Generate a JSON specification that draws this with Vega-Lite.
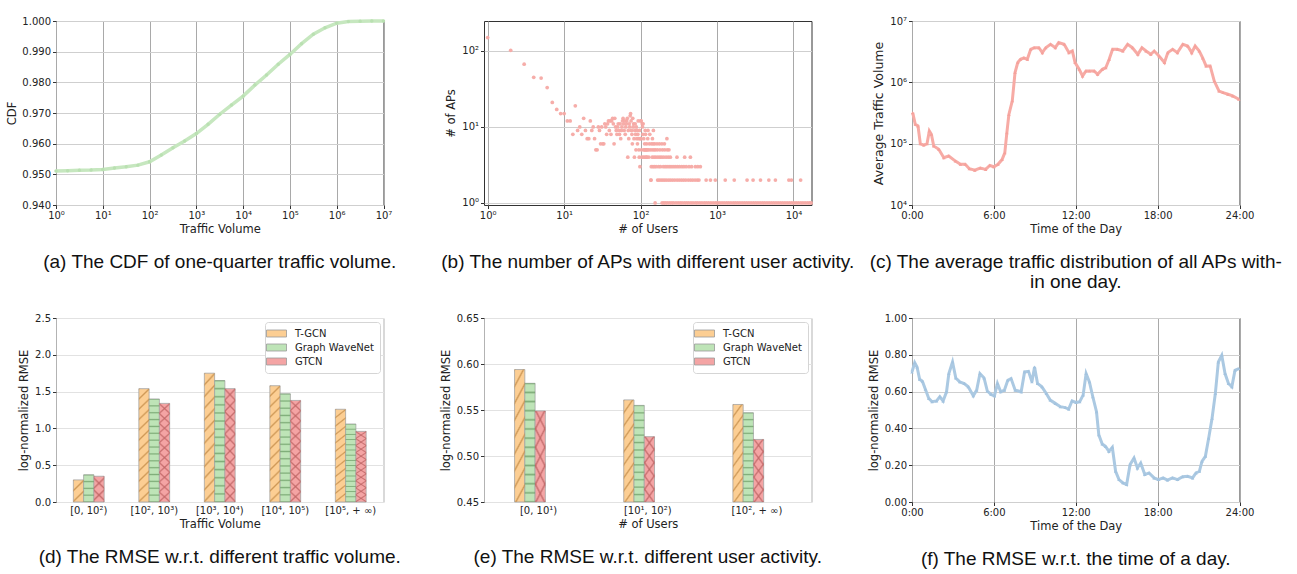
{
  "$schema": "https://vega.github.io/schema/vega-lite/v6.json",
  "padding": {"left": 6, "top": 13, "right": 5, "bottom": 5},
  "background": "white",
  "config": {
    "font": "DejaVu Sans",
    "view": {"stroke": "#333333", "strokeWidth": 1},
    "axis": {
      "labelFont": "DejaVu Sans", "labelFontSize": 10, "labelColor": "#222222",
      "titleFont": "DejaVu Sans", "titleFontSize": 11.5, "titleFontWeight": "normal", "titleColor": "#222222",
      "tickColor": "#333333", "tickSize": 3.5, "domain": false, "labelFlush": false, "labelOverlap": false,
      "labelPadding": 2, "titlePadding": 3, "gridWidth": 1
    },
    "axisX": {"gridColor": "#a9a9a9"},
    "axisY": {"gridColor": "#cfcfcf"},
    "title": {"font": "Liberation Sans", "fontSize": 19, "fontWeight": "normal", "color": "#111111", "orient": "bottom", "frame": "group", "anchor": "middle", "offset": 18}
  },
  "resolve": {"scale": {"color": "independent"}, "legend": {"color": "independent"}},
  "columns": 3,
  "spacing": {"row": 113, "column": 100},
  "bounds": "flush",
  "concat": [
    {
      "width": 327.5, "height": 184,
      "title": {"text": "(a) The CDF of one-quarter traffic volume."},
      "data": {"values": [
        {"x": 1, "c": 0.9511}, {"x": 1.778, "c": 0.9512}, {"x": 3.162, "c": 0.9513}, {"x": 5.623, "c": 0.9514},
        {"x": 10, "c": 0.9516}, {"x": 17.78, "c": 0.9521}, {"x": 31.62, "c": 0.9525}, {"x": 56.23, "c": 0.953},
        {"x": 100, "c": 0.9541}, {"x": 177.8, "c": 0.9563}, {"x": 316.2, "c": 0.9587}, {"x": 562.3, "c": 0.9609},
        {"x": 1000, "c": 0.9633}, {"x": 1778, "c": 0.9663}, {"x": 3162, "c": 0.9696}, {"x": 5623, "c": 0.9726},
        {"x": 10000, "c": 0.9755}, {"x": 17783, "c": 0.9791}, {"x": 31623, "c": 0.9824}, {"x": 56234, "c": 0.9859},
        {"x": 100000, "c": 0.9891}, {"x": 177828, "c": 0.9926}, {"x": 316228, "c": 0.9957}, {"x": 562341, "c": 0.9978},
        {"x": 1000000, "c": 0.9993}, {"x": 1778279, "c": 0.9998}, {"x": 3162278, "c": 0.9999}, {"x": 5623413, "c": 1.0},
        {"x": 10000000, "c": 1.0}
      ]},
      "mark": {"type": "line", "color": "#c6e7bf", "strokeWidth": 3.5, "point": {"filled": true, "size": 12, "color": "#b9e0b1"}},
      "encoding": {
        "x": {"field": "x", "type": "quantitative", "scale": {"type": "log", "domain": [1, 10000000], "nice": false},
          "axis": {"values": [1, 10, 100, 1000, 10000, 100000, 1000000, 10000000], "title": "Traffic Volume",
            "labelExpr": "'10' + ['⁰','¹','²','³','⁴','⁵','⁶','⁷'][round(log(datum.value)/LN10)]"}},
        "y": {"field": "c", "type": "quantitative", "scale": {"domain": [0.94, 1.0], "nice": false, "zero": false},
          "axis": {"values": [0.94, 0.95, 0.96, 0.97, 0.98, 0.99, 1.0], "format": ".3f", "title": "CDF", "titlePadding": 4}}
      }
    },
    {
      "width": 327.5, "height": 184,
      "title": {"text": "(b) The number of APs with different user activity."},
      "data": {"values": [
        {"u": 1, "n": 150}, {"u": 2, "n": 102}, {"u": 3, "n": 67}, {"u": 4, "n": 45}, {"u": 5, "n": 44}, {"u": 6, "n": 33},
        {"u": 7, "n": 21}, {"u": 8, "n": 17}, {"u": 9, "n": 15}, {"u": 10, "n": 15}, {"u": 11, "n": 12}, {"u": 12, "n": 12},
        {"u": 13, "n": 8}, {"u": 14, "n": 19}, {"u": 15, "n": 9}, {"u": 16, "n": 10}, {"u": 17, "n": 8}, {"u": 18, "n": 13},
        {"u": 19, "n": 9}, {"u": 20, "n": 7}, {"u": 21, "n": 7}, {"u": 22, "n": 12}, {"u": 23, "n": 9}, {"u": 24, "n": 10},
        {"u": 25, "n": 7}, {"u": 26, "n": 5}, {"u": 27, "n": 5}, {"u": 28, "n": 10}, {"u": 29, "n": 9}, {"u": 30, "n": 6},
        {"u": 31, "n": 10}, {"u": 32, "n": 6}, {"u": 33, "n": 6}, {"u": 34, "n": 11}, {"u": 35, "n": 10}, {"u": 36, "n": 8},
        {"u": 37, "n": 11}, {"u": 38, "n": 12}, {"u": 39, "n": 9}, {"u": 40, "n": 12}, {"u": 41, "n": 8}, {"u": 42, "n": 12},
        {"u": 43, "n": 13}, {"u": 44, "n": 11}, {"u": 45, "n": 6}, {"u": 46, "n": 13}, {"u": 47, "n": 10}, {"u": 48, "n": 9},
        {"u": 49, "n": 8}, {"u": 50, "n": 10}, {"u": 51, "n": 11}, {"u": 52, "n": 9}, {"u": 53, "n": 8}, {"u": 54, "n": 11},
        {"u": 55, "n": 7}, {"u": 56, "n": 9}, {"u": 57, "n": 10}, {"u": 58, "n": 12}, {"u": 59, "n": 13}, {"u": 60, "n": 11},
        {"u": 61, "n": 9}, {"u": 62, "n": 12}, {"u": 63, "n": 8}, {"u": 64, "n": 10}, {"u": 65, "n": 11}, {"u": 66, "n": 12},
        {"u": 67, "n": 13}, {"u": 68, "n": 4}, {"u": 69, "n": 9}, {"u": 70, "n": 7}, {"u": 71, "n": 11}, {"u": 72, "n": 10},
        {"u": 73, "n": 14}, {"u": 74, "n": 15}, {"u": 75, "n": 12}, {"u": 76, "n": 9}, {"u": 77, "n": 8}, {"u": 78, "n": 6},
        {"u": 79, "n": 13}, {"u": 80, "n": 10}, {"u": 81, "n": 11}, {"u": 82, "n": 7}, {"u": 83, "n": 4}, {"u": 84, "n": 9},
        {"u": 85, "n": 11}, {"u": 86, "n": 8}, {"u": 87, "n": 5}, {"u": 88, "n": 10}, {"u": 89, "n": 7}, {"u": 90, "n": 9},
        {"u": 91, "n": 6}, {"u": 92, "n": 8}, {"u": 93, "n": 12}, {"u": 94, "n": 7}, {"u": 95, "n": 5}, {"u": 96, "n": 4},
        {"u": 97, "n": 9}, {"u": 98, "n": 3}, {"u": 99, "n": 7}, {"u": 100, "n": 12},
        {"u": 101, "n": 7}, {"u": 102, "n": 12}, {"u": 103, "n": 5}, {"u": 104, "n": 4}, {"u": 105, "n": 11}, {"u": 106, "n": 10},
        {"u": 107, "n": 8}, {"u": 108, "n": 11}, {"u": 109, "n": 4}, {"u": 110, "n": 7}, {"u": 111, "n": 5}, {"u": 112, "n": 5},
        {"u": 113, "n": 6}, {"u": 114, "n": 4}, {"u": 115, "n": 9}, {"u": 116, "n": 8}, {"u": 117, "n": 5}, {"u": 118, "n": 5},
        {"u": 119, "n": 4}, {"u": 120, "n": 6}, {"u": 121, "n": 4}, {"u": 122, "n": 5}, {"u": 124, "n": 7}, {"u": 125, "n": 9},
        {"u": 126, "n": 5}, {"u": 128, "n": 4}, {"u": 130, "n": 6}, {"u": 132, "n": 8}, {"u": 133, "n": 5}, {"u": 137, "n": 2},
        {"u": 138, "n": 3}, {"u": 145, "n": 3}, {"u": 152, "n": 3}, {"u": 160, "n": 3}, {"u": 172, "n": 3}, {"u": 182, "n": 3},
        {"u": 198, "n": 3}, {"u": 210, "n": 3}, {"u": 222, "n": 3}, {"u": 236, "n": 3}, {"u": 250, "n": 3}, {"u": 266, "n": 3},
        {"u": 283, "n": 3}, {"u": 302, "n": 3}, {"u": 322, "n": 3}, {"u": 345, "n": 3}, {"u": 368, "n": 3}, {"u": 395, "n": 3},
        {"u": 430, "n": 3}, {"u": 465, "n": 3}, {"u": 520, "n": 3}, {"u": 560, "n": 3}, {"u": 605, "n": 3},
        {"u": 142, "n": 4}, {"u": 150, "n": 4}, {"u": 158, "n": 4}, {"u": 168, "n": 4}, {"u": 178, "n": 4}, {"u": 188, "n": 4},
        {"u": 200, "n": 4}, {"u": 215, "n": 4}, {"u": 230, "n": 4}, {"u": 245, "n": 4}, {"u": 299, "n": 4}, {"u": 377, "n": 4},
        {"u": 448, "n": 4},
        {"u": 141, "n": 5}, {"u": 149, "n": 5}, {"u": 156, "n": 5}, {"u": 166, "n": 5}, {"u": 179, "n": 5}, {"u": 193, "n": 5},
        {"u": 207, "n": 5}, {"u": 223, "n": 5}, {"u": 235, "n": 5},
        {"u": 139, "n": 6}, {"u": 146, "n": 6}, {"u": 153, "n": 6}, {"u": 164, "n": 6}, {"u": 176, "n": 6}, {"u": 190, "n": 6},
        {"u": 205, "n": 6}, {"u": 143, "n": 7}, {"u": 221, "n": 7}, {"u": 147, "n": 9},
        {"u": 136, "n": 2}, {"u": 167, "n": 2}, {"u": 175, "n": 2}, {"u": 185, "n": 2}, {"u": 195, "n": 2}, {"u": 206, "n": 2},
        {"u": 218, "n": 2}, {"u": 232, "n": 2}, {"u": 246, "n": 2}, {"u": 262, "n": 2}, {"u": 280, "n": 2}, {"u": 300, "n": 2},
        {"u": 320, "n": 2}, {"u": 342, "n": 2}, {"u": 365, "n": 2}, {"u": 390, "n": 2}, {"u": 420, "n": 2}, {"u": 450, "n": 2},
        {"u": 480, "n": 2}, {"u": 515, "n": 2}, {"u": 550, "n": 2}, {"u": 580, "n": 2}, {"u": 720, "n": 2}, {"u": 820, "n": 2},
        {"u": 950, "n": 2}, {"u": 1280, "n": 2}, {"u": 1680, "n": 2}, {"u": 2470, "n": 2}, {"u": 2960, "n": 2}, {"u": 3700, "n": 2},
        {"u": 4760, "n": 2}, {"u": 5800, "n": 2}, {"u": 8700, "n": 2}, {"u": 9400, "n": 2}, {"u": 12400, "n": 2},
        {"u": 155, "n": 1}, {"u": 191, "n": 1}, {"u": 201, "n": 1}, {"u": 212, "n": 1}, {"u": 225, "n": 1}, {"u": 240, "n": 1},
        {"u": 255, "n": 1}, {"u": 270, "n": 1}, {"u": 290, "n": 1}, {"u": 310, "n": 1}, {"u": 330, "n": 1}, {"u": 350, "n": 1},
        {"u": 375, "n": 1}, {"u": 400, "n": 1}, {"u": 425, "n": 1}, {"u": 455, "n": 1}, {"u": 485, "n": 1}, {"u": 521, "n": 1},
        {"u": 555, "n": 1}, {"u": 595, "n": 1}, {"u": 635, "n": 1}, {"u": 680, "n": 1}, {"u": 725, "n": 1}, {"u": 775, "n": 1},
        {"u": 830, "n": 1}, {"u": 890, "n": 1}, {"u": 955, "n": 1}, {"u": 1015, "n": 1}, {"u": 1085, "n": 1}, {"u": 1160, "n": 1},
        {"u": 1240, "n": 1}, {"u": 1330, "n": 1}, {"u": 1420, "n": 1}, {"u": 1520, "n": 1}, {"u": 1630, "n": 1}, {"u": 1740, "n": 1},
        {"u": 1860, "n": 1}, {"u": 1990, "n": 1}, {"u": 2130, "n": 1}, {"u": 2280, "n": 1}, {"u": 2440, "n": 1}, {"u": 2610, "n": 1},
        {"u": 2790, "n": 1}, {"u": 2990, "n": 1}, {"u": 3200, "n": 1}, {"u": 3420, "n": 1}, {"u": 3660, "n": 1}, {"u": 3920, "n": 1},
        {"u": 4190, "n": 1}, {"u": 4490, "n": 1}, {"u": 4800, "n": 1}, {"u": 5140, "n": 1}, {"u": 5500, "n": 1}, {"u": 5890, "n": 1},
        {"u": 6300, "n": 1}, {"u": 6740, "n": 1}, {"u": 7210, "n": 1}, {"u": 7720, "n": 1}, {"u": 8260, "n": 1}, {"u": 8840, "n": 1},
        {"u": 9460, "n": 1}, {"u": 10120, "n": 1}, {"u": 10830, "n": 1}, {"u": 11590, "n": 1}, {"u": 12450, "n": 1}, {"u": 13270, "n": 1},
        {"u": 14200, "n": 1}, {"u": 15200, "n": 1}, {"u": 16200, "n": 1}, {"u": 17000, "n": 1}
      ]},
      "mark": {"type": "point", "shape": "circle", "filled": true, "size": 14, "color": "#f5a9a4", "opacity": 0.95},
      "encoding": {
        "x": {"field": "u", "type": "quantitative", "scale": {"type": "log", "domain": [0.895, 17200], "nice": false},
          "axis": {"values": [1, 10, 100, 1000, 10000], "title": "# of Users",
            "labelExpr": "'10' + ['⁰','¹','²','³','⁴'][round(log(datum.value)/LN10)]"}},
        "y": {"field": "n", "type": "quantitative", "scale": {"type": "log", "domain": [0.94, 248], "nice": false},
          "axis": {"values": [1, 10, 100], "title": "# of APs", "titlePadding": 5,
            "labelExpr": "'10' + ['⁰','¹','²'][round(log(datum.value)/LN10)]"}}
      }
    },
    {
      "width": 327.5, "height": 184,
      "title": {"text": ["(c) The average traffic distribution of all APs with-", "in one day."], "lineHeight": 20},
      "data": {"values": [
        {"t": 0.05, "v": 320000}, {"t": 0.24, "v": 207000}, {"t": 0.44, "v": 194000}, {"t": 0.61, "v": 100000},
        {"t": 0.86, "v": 95000}, {"t": 1.1, "v": 100000}, {"t": 1.27, "v": 161000}, {"t": 1.42, "v": 142000},
        {"t": 1.59, "v": 92000}, {"t": 1.96, "v": 81000}, {"t": 2.33, "v": 59000}, {"t": 2.69, "v": 63000},
        {"t": 3.18, "v": 52000}, {"t": 3.55, "v": 46000}, {"t": 3.9, "v": 46000}, {"t": 4.2, "v": 39000},
        {"t": 4.6, "v": 37000}, {"t": 5.0, "v": 40000}, {"t": 5.4, "v": 38000}, {"t": 5.7, "v": 44000},
        {"t": 6.0, "v": 42000}, {"t": 6.3, "v": 46000}, {"t": 6.6, "v": 55000}, {"t": 6.8, "v": 71000},
        {"t": 6.95, "v": 150000}, {"t": 7.1, "v": 300000}, {"t": 7.35, "v": 500000}, {"t": 7.55, "v": 1440000},
        {"t": 7.75, "v": 2100000}, {"t": 7.95, "v": 2370000}, {"t": 8.2, "v": 2500000}, {"t": 8.45, "v": 2370000},
        {"t": 8.7, "v": 3450000}, {"t": 8.95, "v": 3670000}, {"t": 9.3, "v": 3670000}, {"t": 9.55, "v": 3050000},
        {"t": 9.8, "v": 3670000}, {"t": 10.15, "v": 4170000}, {"t": 10.5, "v": 3670000}, {"t": 10.75, "v": 4440000},
        {"t": 11.15, "v": 4170000}, {"t": 11.5, "v": 3050000}, {"t": 11.75, "v": 3240000}, {"t": 11.95, "v": 2100000},
        {"t": 12.25, "v": 1630000}, {"t": 12.5, "v": 1270000}, {"t": 12.75, "v": 1530000}, {"t": 13.0, "v": 1530000},
        {"t": 13.35, "v": 1530000}, {"t": 13.6, "v": 1350000}, {"t": 13.95, "v": 1630000}, {"t": 14.2, "v": 1730000},
        {"t": 14.45, "v": 2370000}, {"t": 14.7, "v": 3450000}, {"t": 15.05, "v": 3450000}, {"t": 15.45, "v": 3240000},
        {"t": 15.8, "v": 4170000}, {"t": 16.15, "v": 3670000}, {"t": 16.55, "v": 2860000}, {"t": 16.85, "v": 3670000},
        {"t": 17.15, "v": 3240000}, {"t": 17.5, "v": 2860000}, {"t": 17.75, "v": 3240000}, {"t": 18.1, "v": 2690000},
        {"t": 18.5, "v": 2100000}, {"t": 18.75, "v": 3050000}, {"t": 19.1, "v": 3450000}, {"t": 19.45, "v": 3050000},
        {"t": 19.85, "v": 4170000}, {"t": 20.2, "v": 3910000}, {"t": 20.5, "v": 3050000}, {"t": 20.75, "v": 3910000},
        {"t": 21.05, "v": 3240000}, {"t": 21.3, "v": 2500000}, {"t": 21.55, "v": 1850000}, {"t": 21.85, "v": 1850000},
        {"t": 22.15, "v": 1050000}, {"t": 22.5, "v": 720000}, {"t": 22.8, "v": 680000}, {"t": 23.15, "v": 640000},
        {"t": 23.5, "v": 600000}, {"t": 23.95, "v": 530000}
      ]},
      "mark": {"type": "line", "color": "#f7aba5", "strokeWidth": 3, "point": {"filled": true, "size": 12, "shape": "triangle-up", "color": "#f5a19b"}},
      "encoding": {
        "x": {"field": "t", "type": "quantitative", "scale": {"domain": [0, 24], "nice": false},
          "axis": {"values": [0, 6, 12, 18, 24], "title": "Time of the Day", "labelExpr": "datum.value + ':00'"}},
        "y": {"field": "v", "type": "quantitative", "scale": {"type": "log", "domain": [10000, 10000000], "nice": false},
          "axis": {"values": [10000, 100000, 1000000, 10000000], "title": "Average Traffic Volume", "titleFontSize": 12.5, "titlePadding": 4,
            "labelExpr": "'10' + ['⁰','¹','²','³','⁴','⁵','⁶','⁷'][round(log(datum.value)/LN10)]"}}
      }
    },
    {
      "width": 327.5, "height": 184,
      "title": {"text": "(d) The RMSE w.r.t. different traffic volume."},
      "view": {"stroke": "#b3b3b3"},
      "data": {"values": [
        {"bin": "[0, 10²)", "model": "T-GCN", "v": 0.30}, {"bin": "[0, 10²)", "model": "Graph WaveNet", "v": 0.37}, {"bin": "[0, 10²)", "model": "GTCN", "v": 0.35},
        {"bin": "[10², 10³)", "model": "T-GCN", "v": 1.54}, {"bin": "[10², 10³)", "model": "Graph WaveNet", "v": 1.40}, {"bin": "[10², 10³)", "model": "GTCN", "v": 1.34},
        {"bin": "[10³, 10⁴)", "model": "T-GCN", "v": 1.75}, {"bin": "[10³, 10⁴)", "model": "Graph WaveNet", "v": 1.65}, {"bin": "[10³, 10⁴)", "model": "GTCN", "v": 1.54},
        {"bin": "[10⁴, 10⁵)", "model": "T-GCN", "v": 1.58}, {"bin": "[10⁴, 10⁵)", "model": "Graph WaveNet", "v": 1.47}, {"bin": "[10⁴, 10⁵)", "model": "GTCN", "v": 1.38},
        {"bin": "[10⁵, + ∞)", "model": "T-GCN", "v": 1.26}, {"bin": "[10⁵, + ∞)", "model": "Graph WaveNet", "v": 1.06}, {"bin": "[10⁵, + ∞)", "model": "GTCN", "v": 0.96}
      ]},
      "encoding": {
        "x": {"field": "bin", "type": "nominal", "sort": ["[0, 10²)", "[10², 10³)", "[10³, 10⁴)", "[10⁴, 10⁵)", "[10⁵, + ∞)"],
          "scale": {"paddingInner": 0.53, "paddingOuter": 0.265},
          "axis": {"title": "Traffic Volume", "labelAngle": 0, "grid": false, "labelPadding": 3, "tickSize": 0}},
        "xOffset": {"field": "model", "type": "nominal", "scale": {"domain": ["T-GCN", "Graph WaveNet", "GTCN"]}},
        "y": {"field": "v", "type": "quantitative", "scale": {"domain": [0, 2.5], "nice": false},
          "axis": {"values": [0, 0.5, 1, 1.5, 2, 2.5], "format": ".1f", "title": "log-normalized RMSE", "gridColor": "#e2e2e2", "titlePadding": 5}}
      },
      "layer": [
        {
          "mark": {"type": "bar", "stroke": "#a3a3a3", "strokeWidth": 0.8},
          "encoding": {"color": {"field": "model", "type": "nominal",
            "scale": {"domain": ["T-GCN", "Graph WaveNet", "GTCN"], "range": ["#fcce93", "#bee4b7", "#f4a4a4"]},
            "legend": {"title": null, "orient": "top-right", "offset": 4, "padding": 6, "strokeColor": "#d5d5d5", "fillColor": "white", "cornerRadius": 3,
              "labelFont": "DejaVu Sans", "labelFontSize": 10, "labelColor": "#222222", "symbolType": "M-2,-0.7L2,-0.7L2,0.7L-2,0.7Z",
              "symbolSize": 100, "symbolStrokeColor": "#999999", "symbolStrokeWidth": 0.8, "labelOffset": 13, "rowPadding": 3}}}
        },
        {
          "mark": {"type": "bar"},
          "encoding": {"fill": {
            "condition": [
              {"test": "datum.model === 'T-GCN' && datum.v < 0.5", "value": {"gradient": "linear", "x1": 0, "y1": 0, "x2": 0.548, "y2": 1.206, "stops": [
                {"offset": 0, "color": "rgba(196,140,72,0.8)"}, {"offset": 0.06, "color": "rgba(196,140,72,0)"}, {"offset": 0.2733, "color": "rgba(196,140,72,0)"},
                {"offset": 0.3333, "color": "rgba(196,140,72,0.8)"}, {"offset": 0.3933, "color": "rgba(196,140,72,0)"}, {"offset": 0.6067, "color": "rgba(196,140,72,0)"},
                {"offset": 0.6667, "color": "rgba(196,140,72,0.8)"}, {"offset": 0.7267, "color": "rgba(196,140,72,0)"}, {"offset": 0.94, "color": "rgba(196,140,72,0)"},
                {"offset": 1, "color": "rgba(196,140,72,0.8)"}]}},
              {"test": "datum.model === 'T-GCN'", "value": {"gradient": "linear", "x1": 0, "y1": 0, "x2": 0.094, "y2": 1.079, "stops": [
                {"offset": 0, "color": "rgba(196,140,72,0.8)"}, {"offset": 0.015, "color": "rgba(196,140,72,0)"}, {"offset": 0.0683, "color": "rgba(196,140,72,0)"},
                {"offset": 0.0833, "color": "rgba(196,140,72,0.8)"}, {"offset": 0.0983, "color": "rgba(196,140,72,0)"}, {"offset": 0.1517, "color": "rgba(196,140,72,0)"},
                {"offset": 0.1667, "color": "rgba(196,140,72,0.8)"}, {"offset": 0.1817, "color": "rgba(196,140,72,0)"}, {"offset": 0.235, "color": "rgba(196,140,72,0)"},
                {"offset": 0.25, "color": "rgba(196,140,72,0.8)"}, {"offset": 0.265, "color": "rgba(196,140,72,0)"}, {"offset": 0.3183, "color": "rgba(196,140,72,0)"},
                {"offset": 0.3333, "color": "rgba(196,140,72,0.8)"}, {"offset": 0.3483, "color": "rgba(196,140,72,0)"}, {"offset": 0.4017, "color": "rgba(196,140,72,0)"},
                {"offset": 0.4167, "color": "rgba(196,140,72,0.8)"}, {"offset": 0.4317, "color": "rgba(196,140,72,0)"}, {"offset": 0.485, "color": "rgba(196,140,72,0)"},
                {"offset": 0.5, "color": "rgba(196,140,72,0.8)"}, {"offset": 0.515, "color": "rgba(196,140,72,0)"}, {"offset": 0.5683, "color": "rgba(196,140,72,0)"},
                {"offset": 0.5833, "color": "rgba(196,140,72,0.8)"}, {"offset": 0.5983, "color": "rgba(196,140,72,0)"}, {"offset": 0.6517, "color": "rgba(196,140,72,0)"},
                {"offset": 0.6667, "color": "rgba(196,140,72,0.8)"}, {"offset": 0.6817, "color": "rgba(196,140,72,0)"}, {"offset": 0.735, "color": "rgba(196,140,72,0)"},
                {"offset": 0.75, "color": "rgba(196,140,72,0.8)"}, {"offset": 0.765, "color": "rgba(196,140,72,0)"}, {"offset": 0.8183, "color": "rgba(196,140,72,0)"},
                {"offset": 0.8333, "color": "rgba(196,140,72,0.8)"}, {"offset": 0.8483, "color": "rgba(196,140,72,0)"}, {"offset": 0.9017, "color": "rgba(196,140,72,0)"},
                {"offset": 0.9167, "color": "rgba(196,140,72,0.8)"}, {"offset": 0.9317, "color": "rgba(196,140,72,0)"}, {"offset": 0.985, "color": "rgba(196,140,72,0)"},
                {"offset": 1, "color": "rgba(196,140,72,0.8)"}]}},
              {"test": "datum.model === 'Graph WaveNet' && datum.v < 0.5", "value": {"gradient": "linear", "x1": 0, "y1": 0, "x2": 0, "y2": 1, "stops": [
                {"offset": 0, "color": "rgba(112,160,106,0.8)"}, {"offset": 0.045, "color": "rgba(112,160,106,0)"}, {"offset": 0.205, "color": "rgba(112,160,106,0)"},
                {"offset": 0.25, "color": "rgba(112,160,106,0.8)"}, {"offset": 0.295, "color": "rgba(112,160,106,0)"}, {"offset": 0.455, "color": "rgba(112,160,106,0)"},
                {"offset": 0.5, "color": "rgba(112,160,106,0.8)"}, {"offset": 0.545, "color": "rgba(112,160,106,0)"}, {"offset": 0.705, "color": "rgba(112,160,106,0)"},
                {"offset": 0.75, "color": "rgba(112,160,106,0.8)"}, {"offset": 0.795, "color": "rgba(112,160,106,0)"}, {"offset": 0.955, "color": "rgba(112,160,106,0)"},
                {"offset": 1, "color": "rgba(112,160,106,0.8)"}]}},
              {"test": "datum.model === 'Graph WaveNet'", "value": {"gradient": "linear", "x1": 0, "y1": 0, "x2": 0, "y2": 1, "stops": [
                {"offset": 0, "color": "rgba(112,160,106,0.8)"}, {"offset": 0.012, "color": "rgba(112,160,106,0)"}, {"offset": 0.0547, "color": "rgba(112,160,106,0)"},
                {"offset": 0.0667, "color": "rgba(112,160,106,0.8)"}, {"offset": 0.0787, "color": "rgba(112,160,106,0)"}, {"offset": 0.1213, "color": "rgba(112,160,106,0)"},
                {"offset": 0.1333, "color": "rgba(112,160,106,0.8)"}, {"offset": 0.1453, "color": "rgba(112,160,106,0)"}, {"offset": 0.188, "color": "rgba(112,160,106,0)"},
                {"offset": 0.2, "color": "rgba(112,160,106,0.8)"}, {"offset": 0.212, "color": "rgba(112,160,106,0)"}, {"offset": 0.2547, "color": "rgba(112,160,106,0)"},
                {"offset": 0.2667, "color": "rgba(112,160,106,0.8)"}, {"offset": 0.2787, "color": "rgba(112,160,106,0)"}, {"offset": 0.3213, "color": "rgba(112,160,106,0)"},
                {"offset": 0.3333, "color": "rgba(112,160,106,0.8)"}, {"offset": 0.3453, "color": "rgba(112,160,106,0)"}, {"offset": 0.388, "color": "rgba(112,160,106,0)"},
                {"offset": 0.4, "color": "rgba(112,160,106,0.8)"}, {"offset": 0.412, "color": "rgba(112,160,106,0)"}, {"offset": 0.4547, "color": "rgba(112,160,106,0)"},
                {"offset": 0.4667, "color": "rgba(112,160,106,0.8)"}, {"offset": 0.4787, "color": "rgba(112,160,106,0)"}, {"offset": 0.5213, "color": "rgba(112,160,106,0)"},
                {"offset": 0.5333, "color": "rgba(112,160,106,0.8)"}, {"offset": 0.5453, "color": "rgba(112,160,106,0)"}, {"offset": 0.588, "color": "rgba(112,160,106,0)"},
                {"offset": 0.6, "color": "rgba(112,160,106,0.8)"}, {"offset": 0.612, "color": "rgba(112,160,106,0)"}, {"offset": 0.6547, "color": "rgba(112,160,106,0)"},
                {"offset": 0.6667, "color": "rgba(112,160,106,0.8)"}, {"offset": 0.6787, "color": "rgba(112,160,106,0)"}, {"offset": 0.7213, "color": "rgba(112,160,106,0)"},
                {"offset": 0.7333, "color": "rgba(112,160,106,0.8)"}, {"offset": 0.7453, "color": "rgba(112,160,106,0)"}, {"offset": 0.788, "color": "rgba(112,160,106,0)"},
                {"offset": 0.8, "color": "rgba(112,160,106,0.8)"}, {"offset": 0.812, "color": "rgba(112,160,106,0)"}, {"offset": 0.8547, "color": "rgba(112,160,106,0)"},
                {"offset": 0.8667, "color": "rgba(112,160,106,0.8)"}, {"offset": 0.8787, "color": "rgba(112,160,106,0)"}, {"offset": 0.9213, "color": "rgba(112,160,106,0)"},
                {"offset": 0.9333, "color": "rgba(112,160,106,0.8)"}, {"offset": 0.9453, "color": "rgba(112,160,106,0)"}, {"offset": 0.988, "color": "rgba(112,160,106,0)"},
                {"offset": 1, "color": "rgba(112,160,106,0.8)"}]}},
              {"test": "datum.v < 0.5", "value": {"gradient": "linear", "x1": 0, "y1": 0, "x2": 0.464, "y2": 1.206, "stops": [
                {"offset": 0, "color": "rgba(190,100,100,0.8)"}, {"offset": 0.06, "color": "rgba(190,100,100,0)"}, {"offset": 0.2733, "color": "rgba(190,100,100,0)"},
                {"offset": 0.3333, "color": "rgba(190,100,100,0.8)"}, {"offset": 0.3933, "color": "rgba(190,100,100,0)"}, {"offset": 0.6067, "color": "rgba(190,100,100,0)"},
                {"offset": 0.6667, "color": "rgba(190,100,100,0.8)"}, {"offset": 0.7267, "color": "rgba(190,100,100,0)"}, {"offset": 0.94, "color": "rgba(190,100,100,0)"},
                {"offset": 1, "color": "rgba(190,100,100,0.8)"}]}}
            ],
            "value": {"gradient": "linear", "x1": 0, "y1": 0, "x2": 0.103, "y2": 1.085, "stops": [
              {"offset": 0, "color": "rgba(190,100,100,0.8)"}, {"offset": 0.0164, "color": "rgba(190,100,100,0)"}, {"offset": 0.0745, "color": "rgba(190,100,100,0)"},
              {"offset": 0.0909, "color": "rgba(190,100,100,0.8)"}, {"offset": 0.1073, "color": "rgba(190,100,100,0)"}, {"offset": 0.1655, "color": "rgba(190,100,100,0)"},
              {"offset": 0.1818, "color": "rgba(190,100,100,0.8)"}, {"offset": 0.1982, "color": "rgba(190,100,100,0)"}, {"offset": 0.2564, "color": "rgba(190,100,100,0)"},
              {"offset": 0.2727, "color": "rgba(190,100,100,0.8)"}, {"offset": 0.2891, "color": "rgba(190,100,100,0)"}, {"offset": 0.3473, "color": "rgba(190,100,100,0)"},
              {"offset": 0.3636, "color": "rgba(190,100,100,0.8)"}, {"offset": 0.38, "color": "rgba(190,100,100,0)"}, {"offset": 0.4382, "color": "rgba(190,100,100,0)"},
              {"offset": 0.4545, "color": "rgba(190,100,100,0.8)"}, {"offset": 0.4709, "color": "rgba(190,100,100,0)"}, {"offset": 0.5291, "color": "rgba(190,100,100,0)"},
              {"offset": 0.5455, "color": "rgba(190,100,100,0.8)"}, {"offset": 0.5618, "color": "rgba(190,100,100,0)"}, {"offset": 0.62, "color": "rgba(190,100,100,0)"},
              {"offset": 0.6364, "color": "rgba(190,100,100,0.8)"}, {"offset": 0.6527, "color": "rgba(190,100,100,0)"}, {"offset": 0.7109, "color": "rgba(190,100,100,0)"},
              {"offset": 0.7273, "color": "rgba(190,100,100,0.8)"}, {"offset": 0.7436, "color": "rgba(190,100,100,0)"}, {"offset": 0.8018, "color": "rgba(190,100,100,0)"},
              {"offset": 0.8182, "color": "rgba(190,100,100,0.8)"}, {"offset": 0.8345, "color": "rgba(190,100,100,0)"}, {"offset": 0.8927, "color": "rgba(190,100,100,0)"},
              {"offset": 0.9091, "color": "rgba(190,100,100,0.8)"}, {"offset": 0.9255, "color": "rgba(190,100,100,0)"}, {"offset": 0.9836, "color": "rgba(190,100,100,0)"},
              {"offset": 1, "color": "rgba(190,100,100,0.8)"}]}
          }}
        },
        {
          "transform": [{"filter": "datum.model === 'GTCN'"}],
          "mark": {"type": "bar"},
          "encoding": {"fill": {
            "condition": [
              {"test": "datum.v < 0.5", "value": {"gradient": "linear", "x1": 0, "y1": 1, "x2": 0.464, "y2": -0.206, "stops": [
                {"offset": 0, "color": "rgba(190,100,100,0.8)"}, {"offset": 0.06, "color": "rgba(190,100,100,0)"}, {"offset": 0.2733, "color": "rgba(190,100,100,0)"},
                {"offset": 0.3333, "color": "rgba(190,100,100,0.8)"}, {"offset": 0.3933, "color": "rgba(190,100,100,0)"}, {"offset": 0.6067, "color": "rgba(190,100,100,0)"},
                {"offset": 0.6667, "color": "rgba(190,100,100,0.8)"}, {"offset": 0.7267, "color": "rgba(190,100,100,0)"}, {"offset": 0.94, "color": "rgba(190,100,100,0)"},
                {"offset": 1, "color": "rgba(190,100,100,0.8)"}]}}
            ],
            "value": {"gradient": "linear", "x1": 0, "y1": 1, "x2": 0.103, "y2": -0.085, "stops": [
              {"offset": 0, "color": "rgba(190,100,100,0.8)"}, {"offset": 0.0164, "color": "rgba(190,100,100,0)"}, {"offset": 0.0745, "color": "rgba(190,100,100,0)"},
              {"offset": 0.0909, "color": "rgba(190,100,100,0.8)"}, {"offset": 0.1073, "color": "rgba(190,100,100,0)"}, {"offset": 0.1655, "color": "rgba(190,100,100,0)"},
              {"offset": 0.1818, "color": "rgba(190,100,100,0.8)"}, {"offset": 0.1982, "color": "rgba(190,100,100,0)"}, {"offset": 0.2564, "color": "rgba(190,100,100,0)"},
              {"offset": 0.2727, "color": "rgba(190,100,100,0.8)"}, {"offset": 0.2891, "color": "rgba(190,100,100,0)"}, {"offset": 0.3473, "color": "rgba(190,100,100,0)"},
              {"offset": 0.3636, "color": "rgba(190,100,100,0.8)"}, {"offset": 0.38, "color": "rgba(190,100,100,0)"}, {"offset": 0.4382, "color": "rgba(190,100,100,0)"},
              {"offset": 0.4545, "color": "rgba(190,100,100,0.8)"}, {"offset": 0.4709, "color": "rgba(190,100,100,0)"}, {"offset": 0.5291, "color": "rgba(190,100,100,0)"},
              {"offset": 0.5455, "color": "rgba(190,100,100,0.8)"}, {"offset": 0.5618, "color": "rgba(190,100,100,0)"}, {"offset": 0.62, "color": "rgba(190,100,100,0)"},
              {"offset": 0.6364, "color": "rgba(190,100,100,0.8)"}, {"offset": 0.6527, "color": "rgba(190,100,100,0)"}, {"offset": 0.7109, "color": "rgba(190,100,100,0)"},
              {"offset": 0.7273, "color": "rgba(190,100,100,0.8)"}, {"offset": 0.7436, "color": "rgba(190,100,100,0)"}, {"offset": 0.8018, "color": "rgba(190,100,100,0)"},
              {"offset": 0.8182, "color": "rgba(190,100,100,0.8)"}, {"offset": 0.8345, "color": "rgba(190,100,100,0)"}, {"offset": 0.8927, "color": "rgba(190,100,100,0)"},
              {"offset": 0.9091, "color": "rgba(190,100,100,0.8)"}, {"offset": 0.9255, "color": "rgba(190,100,100,0)"}, {"offset": 0.9836, "color": "rgba(190,100,100,0)"},
              {"offset": 1, "color": "rgba(190,100,100,0.8)"}]}
          }}
        }
      ]
    },
    {
      "width": 327.5, "height": 184,
      "title": {"text": "(e) The RMSE w.r.t. different user activity."},
      "view": {"stroke": "#b3b3b3"},
      "data": {"values": [
        {"bin": "[0, 10¹)", "model": "T-GCN", "v": 0.594}, {"bin": "[0, 10¹)", "model": "Graph WaveNet", "v": 0.579}, {"bin": "[0, 10¹)", "model": "GTCN", "v": 0.549},
        {"bin": "[10¹, 10²)", "model": "T-GCN", "v": 0.561}, {"bin": "[10¹, 10²)", "model": "Graph WaveNet", "v": 0.555}, {"bin": "[10¹, 10²)", "model": "GTCN", "v": 0.521},
        {"bin": "[10², + ∞)", "model": "T-GCN", "v": 0.556}, {"bin": "[10², + ∞)", "model": "Graph WaveNet", "v": 0.547}, {"bin": "[10², + ∞)", "model": "GTCN", "v": 0.518}
      ]},
      "encoding": {
        "x": {"field": "bin", "type": "nominal", "sort": ["[0, 10¹)", "[10¹, 10²)", "[10², + ∞)"],
          "scale": {"paddingInner": 0.56, "paddingOuter": 0.28},
          "axis": {"title": "# of Users", "labelAngle": 0, "grid": false, "labelPadding": 3, "tickSize": 0}},
        "xOffset": {"field": "model", "type": "nominal", "scale": {"domain": ["T-GCN", "Graph WaveNet", "GTCN"]}},
        "y": {"field": "v", "type": "quantitative", "scale": {"domain": [0.45, 0.65], "nice": false, "zero": false},
          "axis": {"values": [0.45, 0.5, 0.55, 0.6, 0.65], "format": ".2f", "title": "log-normalized RMSE", "gridColor": "#e2e2e2", "titlePadding": 5}},
        "y2": {"datum": 0.45}
      },
      "layer": [
        {
          "mark": {"type": "bar", "stroke": "#a3a3a3", "strokeWidth": 0.8},
          "encoding": {"color": {"field": "model", "type": "nominal",
            "scale": {"domain": ["T-GCN", "Graph WaveNet", "GTCN"], "range": ["#fcce93", "#bee4b7", "#f4a4a4"]},
            "legend": {"title": null, "orient": "top-right", "offset": 4, "padding": 6, "strokeColor": "#d5d5d5", "fillColor": "white", "cornerRadius": 3,
              "labelFont": "DejaVu Sans", "labelFontSize": 10, "labelColor": "#222222", "symbolType": "M-2,-0.7L2,-0.7L2,0.7L-2,0.7Z",
              "symbolSize": 100, "symbolStrokeColor": "#999999", "symbolStrokeWidth": 0.8, "labelOffset": 13, "rowPadding": 3}}}
        },
        {
          "mark": {"type": "bar"},
          "encoding": {"fill": {
            "condition": [
              {"test": "datum.model === 'T-GCN'", "value": {"gradient": "linear", "x1": 0, "y1": 0, "x2": 0.163, "y2": 1.121, "stops": [
                {"offset": 0, "color": "rgba(196,140,72,0.8)"}, {"offset": 0.02, "color": "rgba(196,140,72,0)"}, {"offset": 0.0911, "color": "rgba(196,140,72,0)"},
                {"offset": 0.1111, "color": "rgba(196,140,72,0.8)"}, {"offset": 0.1311, "color": "rgba(196,140,72,0)"}, {"offset": 0.2022, "color": "rgba(196,140,72,0)"},
                {"offset": 0.2222, "color": "rgba(196,140,72,0.8)"}, {"offset": 0.2422, "color": "rgba(196,140,72,0)"}, {"offset": 0.3133, "color": "rgba(196,140,72,0)"},
                {"offset": 0.3333, "color": "rgba(196,140,72,0.8)"}, {"offset": 0.3533, "color": "rgba(196,140,72,0)"}, {"offset": 0.4244, "color": "rgba(196,140,72,0)"},
                {"offset": 0.4444, "color": "rgba(196,140,72,0.8)"}, {"offset": 0.4644, "color": "rgba(196,140,72,0)"}, {"offset": 0.5356, "color": "rgba(196,140,72,0)"},
                {"offset": 0.5556, "color": "rgba(196,140,72,0.8)"}, {"offset": 0.5756, "color": "rgba(196,140,72,0)"}, {"offset": 0.6467, "color": "rgba(196,140,72,0)"},
                {"offset": 0.6667, "color": "rgba(196,140,72,0.8)"}, {"offset": 0.6867, "color": "rgba(196,140,72,0)"}, {"offset": 0.7578, "color": "rgba(196,140,72,0)"},
                {"offset": 0.7778, "color": "rgba(196,140,72,0.8)"}, {"offset": 0.7978, "color": "rgba(196,140,72,0)"}, {"offset": 0.8689, "color": "rgba(196,140,72,0)"},
                {"offset": 0.8889, "color": "rgba(196,140,72,0.8)"}, {"offset": 0.9089, "color": "rgba(196,140,72,0)"}, {"offset": 0.98, "color": "rgba(196,140,72,0)"},
                {"offset": 1, "color": "rgba(196,140,72,0.8)"}]}},
              {"test": "datum.model === 'Graph WaveNet'", "value": {"gradient": "linear", "x1": 0, "y1": 0, "x2": 0, "y2": 1, "stops": [
                {"offset": 0, "color": "rgba(112,160,106,0.8)"}, {"offset": 0.0138, "color": "rgba(112,160,106,0)"}, {"offset": 0.0631, "color": "rgba(112,160,106,0)"},
                {"offset": 0.0769, "color": "rgba(112,160,106,0.8)"}, {"offset": 0.0908, "color": "rgba(112,160,106,0)"}, {"offset": 0.14, "color": "rgba(112,160,106,0)"},
                {"offset": 0.1538, "color": "rgba(112,160,106,0.8)"}, {"offset": 0.1677, "color": "rgba(112,160,106,0)"}, {"offset": 0.2169, "color": "rgba(112,160,106,0)"},
                {"offset": 0.2308, "color": "rgba(112,160,106,0.8)"}, {"offset": 0.2446, "color": "rgba(112,160,106,0)"}, {"offset": 0.2938, "color": "rgba(112,160,106,0)"},
                {"offset": 0.3077, "color": "rgba(112,160,106,0.8)"}, {"offset": 0.3215, "color": "rgba(112,160,106,0)"}, {"offset": 0.3708, "color": "rgba(112,160,106,0)"},
                {"offset": 0.3846, "color": "rgba(112,160,106,0.8)"}, {"offset": 0.3985, "color": "rgba(112,160,106,0)"}, {"offset": 0.4477, "color": "rgba(112,160,106,0)"},
                {"offset": 0.4615, "color": "rgba(112,160,106,0.8)"}, {"offset": 0.4754, "color": "rgba(112,160,106,0)"}, {"offset": 0.5246, "color": "rgba(112,160,106,0)"},
                {"offset": 0.5385, "color": "rgba(112,160,106,0.8)"}, {"offset": 0.5523, "color": "rgba(112,160,106,0)"}, {"offset": 0.6015, "color": "rgba(112,160,106,0)"},
                {"offset": 0.6154, "color": "rgba(112,160,106,0.8)"}, {"offset": 0.6292, "color": "rgba(112,160,106,0)"}, {"offset": 0.6785, "color": "rgba(112,160,106,0)"},
                {"offset": 0.6923, "color": "rgba(112,160,106,0.8)"}, {"offset": 0.7062, "color": "rgba(112,160,106,0)"}, {"offset": 0.7554, "color": "rgba(112,160,106,0)"},
                {"offset": 0.7692, "color": "rgba(112,160,106,0.8)"}, {"offset": 0.7831, "color": "rgba(112,160,106,0)"}, {"offset": 0.8323, "color": "rgba(112,160,106,0)"},
                {"offset": 0.8462, "color": "rgba(112,160,106,0.8)"}, {"offset": 0.86, "color": "rgba(112,160,106,0)"}, {"offset": 0.9092, "color": "rgba(112,160,106,0)"},
                {"offset": 0.9231, "color": "rgba(112,160,106,0.8)"}, {"offset": 0.9369, "color": "rgba(112,160,106,0)"}, {"offset": 0.9862, "color": "rgba(112,160,106,0)"},
                {"offset": 1, "color": "rgba(112,160,106,0.8)"}]}}
            ],
            "value": {"gradient": "linear", "x1": 0, "y1": 0, "x2": 0.255, "y2": 1.163, "stops": [
              {"offset": 0, "color": "rgba(190,100,100,0.8)"}, {"offset": 0.03, "color": "rgba(190,100,100,0)"}, {"offset": 0.1367, "color": "rgba(190,100,100,0)"},
              {"offset": 0.1667, "color": "rgba(190,100,100,0.8)"}, {"offset": 0.1967, "color": "rgba(190,100,100,0)"}, {"offset": 0.3033, "color": "rgba(190,100,100,0)"},
              {"offset": 0.3333, "color": "rgba(190,100,100,0.8)"}, {"offset": 0.3633, "color": "rgba(190,100,100,0)"}, {"offset": 0.47, "color": "rgba(190,100,100,0)"},
              {"offset": 0.5, "color": "rgba(190,100,100,0.8)"}, {"offset": 0.53, "color": "rgba(190,100,100,0)"}, {"offset": 0.6367, "color": "rgba(190,100,100,0)"},
              {"offset": 0.6667, "color": "rgba(190,100,100,0.8)"}, {"offset": 0.6967, "color": "rgba(190,100,100,0)"}, {"offset": 0.8033, "color": "rgba(190,100,100,0)"},
              {"offset": 0.8333, "color": "rgba(190,100,100,0.8)"}, {"offset": 0.8633, "color": "rgba(190,100,100,0)"}, {"offset": 0.97, "color": "rgba(190,100,100,0)"},
              {"offset": 1, "color": "rgba(190,100,100,0.8)"}]}
          }}
        },
        {
          "transform": [{"filter": "datum.model === 'GTCN'"}],
          "mark": {"type": "bar"},
          "encoding": {"fill": {
            "value": {"gradient": "linear", "x1": 0, "y1": 1, "x2": 0.255, "y2": -0.163, "stops": [
              {"offset": 0, "color": "rgba(190,100,100,0.8)"}, {"offset": 0.03, "color": "rgba(190,100,100,0)"}, {"offset": 0.1367, "color": "rgba(190,100,100,0)"},
              {"offset": 0.1667, "color": "rgba(190,100,100,0.8)"}, {"offset": 0.1967, "color": "rgba(190,100,100,0)"}, {"offset": 0.3033, "color": "rgba(190,100,100,0)"},
              {"offset": 0.3333, "color": "rgba(190,100,100,0.8)"}, {"offset": 0.3633, "color": "rgba(190,100,100,0)"}, {"offset": 0.47, "color": "rgba(190,100,100,0)"},
              {"offset": 0.5, "color": "rgba(190,100,100,0.8)"}, {"offset": 0.53, "color": "rgba(190,100,100,0)"}, {"offset": 0.6367, "color": "rgba(190,100,100,0)"},
              {"offset": 0.6667, "color": "rgba(190,100,100,0.8)"}, {"offset": 0.6967, "color": "rgba(190,100,100,0)"}, {"offset": 0.8033, "color": "rgba(190,100,100,0)"},
              {"offset": 0.8333, "color": "rgba(190,100,100,0.8)"}, {"offset": 0.8633, "color": "rgba(190,100,100,0)"}, {"offset": 0.97, "color": "rgba(190,100,100,0)"},
              {"offset": 1, "color": "rgba(190,100,100,0.8)"}]}
          }}
        }
      ]
    },
    {
      "width": 327.5, "height": 184,
      "title": {"text": "(f) The RMSE w.r.t. the time of a day."},
      "data": {"values": [
        {"t": 0, "r": 0.707}, {"t": 0.2, "r": 0.757}, {"t": 0.37, "r": 0.734}, {"t": 0.56, "r": 0.667}, {"t": 0.76, "r": 0.656},
        {"t": 0.98, "r": 0.613}, {"t": 1.23, "r": 0.563}, {"t": 1.47, "r": 0.545}, {"t": 1.8, "r": 0.549}, {"t": 2.04, "r": 0.572},
        {"t": 2.28, "r": 0.549}, {"t": 2.53, "r": 0.599}, {"t": 2.7, "r": 0.698}, {"t": 2.97, "r": 0.761}, {"t": 3.21, "r": 0.674},
        {"t": 3.5, "r": 0.653}, {"t": 3.83, "r": 0.644}, {"t": 4.12, "r": 0.626}, {"t": 4.49, "r": 0.577}, {"t": 4.74, "r": 0.608},
        {"t": 4.98, "r": 0.698}, {"t": 5.28, "r": 0.674}, {"t": 5.52, "r": 0.603}, {"t": 5.79, "r": 0.585}, {"t": 6.04, "r": 0.577},
        {"t": 6.26, "r": 0.644}, {"t": 6.5, "r": 0.599}, {"t": 6.77, "r": 0.608}, {"t": 7.02, "r": 0.662}, {"t": 7.26, "r": 0.671},
        {"t": 7.56, "r": 0.608}, {"t": 8.0, "r": 0.599}, {"t": 8.25, "r": 0.707}, {"t": 8.54, "r": 0.71}, {"t": 8.79, "r": 0.653},
        {"t": 8.98, "r": 0.734}, {"t": 9.2, "r": 0.644}, {"t": 9.52, "r": 0.626}, {"t": 9.84, "r": 0.59}, {"t": 10.13, "r": 0.554},
        {"t": 10.5, "r": 0.536}, {"t": 10.87, "r": 0.518}, {"t": 11.24, "r": 0.513}, {"t": 11.48, "r": 0.505}, {"t": 11.73, "r": 0.549},
        {"t": 12.02, "r": 0.541}, {"t": 12.29, "r": 0.545}, {"t": 12.54, "r": 0.581}, {"t": 12.76, "r": 0.698}, {"t": 13.0, "r": 0.653},
        {"t": 13.25, "r": 0.572}, {"t": 13.52, "r": 0.491}, {"t": 13.69, "r": 0.365}, {"t": 13.94, "r": 0.315}, {"t": 14.18, "r": 0.302},
        {"t": 14.43, "r": 0.275}, {"t": 14.68, "r": 0.297}, {"t": 14.92, "r": 0.167}, {"t": 15.17, "r": 0.122}, {"t": 15.46, "r": 0.104},
        {"t": 15.73, "r": 0.095}, {"t": 15.98, "r": 0.203}, {"t": 16.27, "r": 0.239}, {"t": 16.52, "r": 0.185}, {"t": 16.76, "r": 0.212},
        {"t": 17.06, "r": 0.149}, {"t": 17.37, "r": 0.158}, {"t": 17.74, "r": 0.131}, {"t": 18.06, "r": 0.122}, {"t": 18.4, "r": 0.131},
        {"t": 18.72, "r": 0.119}, {"t": 19.09, "r": 0.131}, {"t": 19.46, "r": 0.122}, {"t": 19.83, "r": 0.137}, {"t": 20.2, "r": 0.14},
        {"t": 20.56, "r": 0.131}, {"t": 20.81, "r": 0.158}, {"t": 21.06, "r": 0.167}, {"t": 21.25, "r": 0.221}, {"t": 21.5, "r": 0.248},
        {"t": 21.74, "r": 0.347}, {"t": 21.99, "r": 0.455}, {"t": 22.23, "r": 0.59}, {"t": 22.45, "r": 0.761}, {"t": 22.7, "r": 0.797},
        {"t": 22.94, "r": 0.698}, {"t": 23.19, "r": 0.644}, {"t": 23.44, "r": 0.626}, {"t": 23.67, "r": 0.716}, {"t": 23.95, "r": 0.725}
      ]},
      "mark": {"type": "line", "color": "#abc9e2", "strokeWidth": 3, "point": {"filled": true, "size": 12, "shape": "triangle-up", "color": "#a3c3df"}},
      "encoding": {
        "x": {"field": "t", "type": "quantitative", "scale": {"domain": [0, 24], "nice": false},
          "axis": {"values": [0, 6, 12, 18, 24], "title": "Time of the Day", "labelExpr": "datum.value + ':00'"}},
        "y": {"field": "r", "type": "quantitative", "scale": {"domain": [0, 1], "nice": false},
          "axis": {"values": [0, 0.2, 0.4, 0.6, 0.8, 1.0], "format": ".2f", "title": "log-normalized RMSE", "titlePadding": 5}}
      }
    }
  ]
}
